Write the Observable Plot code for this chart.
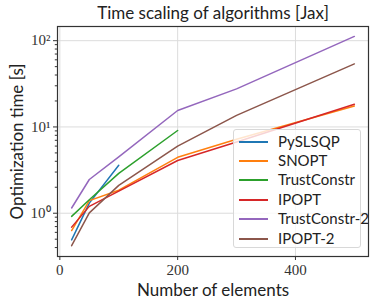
<!DOCTYPE html>
<html><head><meta charset="utf-8">
<script src="https://cdn.jsdelivr.net/npm/d3@7"></script>
<script src="https://cdn.jsdelivr.net/npm/@observablehq/plot@0.6"></script>
<style>
body{margin:0;background:#fff;}
#wrap{position:relative;width:374px;height:306px;}
#legend{position:absolute;left:233px;top:129px;width:128px;height:119px;box-sizing:border-box;background:rgba(255,255,255,0.8);border:1px solid #d8d8d8;border-radius:3px;font-family:Lato;font-size:15px;color:#222;}
.row{position:absolute;left:0;height:19px;width:100%;}
.sw{position:absolute;left:5px;top:9px;width:29px;height:2px;}
.lb{position:absolute;left:44px;top:0;line-height:19px;white-space:nowrap;}
</style>
</head><body>
<div id="wrap"><div id="chart"></div><div id="legend"></div></div>
<script>
const xs = [20, 50, 100, 200, 300, 500];
const series = ["PySLSQP", "SNOPT", "TrustConstr", "IPOPT", "TrustConstr-2", "IPOPT-2"];
const colors = ["#1f77b4", "#ff7f0e", "#2ca02c", "#d62728", "#9467bd", "#8c564b"];
const pyslsqp = [0.49, 1.31, 3.6];
const snopt = [0.63, 1.40, 1.85, 4.45, 7.2, 17.5];
const trustConstr = [0.92, 1.43, 2.9, 9.1];
const ipopt = [0.69, 1.2, 1.8, 4.08, 6.7, 18.3];
const trustConstr2 = [1.15, 2.46, 4.5, 15.5, 27.6, 112];
const ipopt2 = [0.42, 1.01, 2.1, 6.0, 13.6, 53.8];
const xTicks = [0, 200, 400];
const yTicks = [1, 10, 100];
const yTickLabels = ["10⁰", "10¹", "10²"];
const title = "Time scaling of algorithms [Jax]";
const xLabel = "Number of elements";
const yLabel = "Optimization time [s]";

const values = [pyslsqp, snopt, trustConstr, ipopt, trustConstr2, ipopt2];
const data = [];
values.forEach((arr, i) => arr.forEach((v, j) => data.push({x: xs[j], y: v, s: series[i]})));
const minor = [];
for (const d of [0.1, 1, 10]) for (let k = 2; k <= 9; k++) { const v = +(k * d).toPrecision(3); if (v > 0.315 && v < 146) minor.push(v); }

const chart = Plot.plot({
  width: 374, height: 306,
  marginLeft: 57, marginRight: 6, marginTop: 26, marginBottom: 50,
  style: {background: "#fff"},
  x: {domain: [-4, 524]},
  y: {type: "log", domain: [0.315, 146]},
  color: {domain: series, range: colors},
  marks: [
    Plot.gridX(xTicks, {stroke: "#dcdcdc", strokeOpacity: 1, strokeWidth: 1}),
    Plot.gridY(yTicks, {stroke: "#dcdcdc", strokeOpacity: 1, strokeWidth: 1}),
    Plot.line(data, {x: "x", y: "y", z: "s", stroke: "s", strokeWidth: 1.5}),
    Plot.frame({stroke: "#333", strokeWidth: 1.2}),
    Plot.axisX(xTicks, {tickSize: 4, tickPadding: 4, label: null, fontFamily: "Liberation Serif", fontSize: 15, stroke: "#333", fill: "#333"}),
    Plot.axisY(minor, {tickSize: 2.2, tickFormat: () => "", label: null, stroke: "#333"}),
    Plot.axisY(yTicks, {tickSize: 4, tickPadding: 3, label: null, tickFormat: (d) => yTickLabels[yTicks.indexOf(d)], fontFamily: "Liberation Serif", fontSize: 15, stroke: "#333", fill: "#333"}),
    Plot.text([title], {text: d => d, frameAnchor: "top", lineAnchor: "middle", dy: -13, fontFamily: "Lato", fontSize: 17, fill: "#222"}),
    Plot.text([xLabel], {text: d => d, frameAnchor: "bottom", lineAnchor: "middle", dy: 34, fontFamily: "Lato", fontSize: 17, fill: "#222"}),
    Plot.text([yLabel], {text: d => d, frameAnchor: "left", textAnchor: "middle", lineAnchor: "middle", dx: -40, rotate: -90, fontFamily: "Lato", fontSize: 17, fill: "#222"})
  ]
});
document.getElementById("chart").appendChild(chart);

const legend = document.getElementById("legend");
series.forEach((s, i) => {
  const row = document.createElement("div");
  row.className = "row";
  row.style.top = (1.5 + i * 19.4) + "px";
  row.innerHTML = `<div class="sw" style="background:${colors[i]}"></div><div class="lb">${s}</div>`;
  legend.appendChild(row);
});
</script>
</body></html>
